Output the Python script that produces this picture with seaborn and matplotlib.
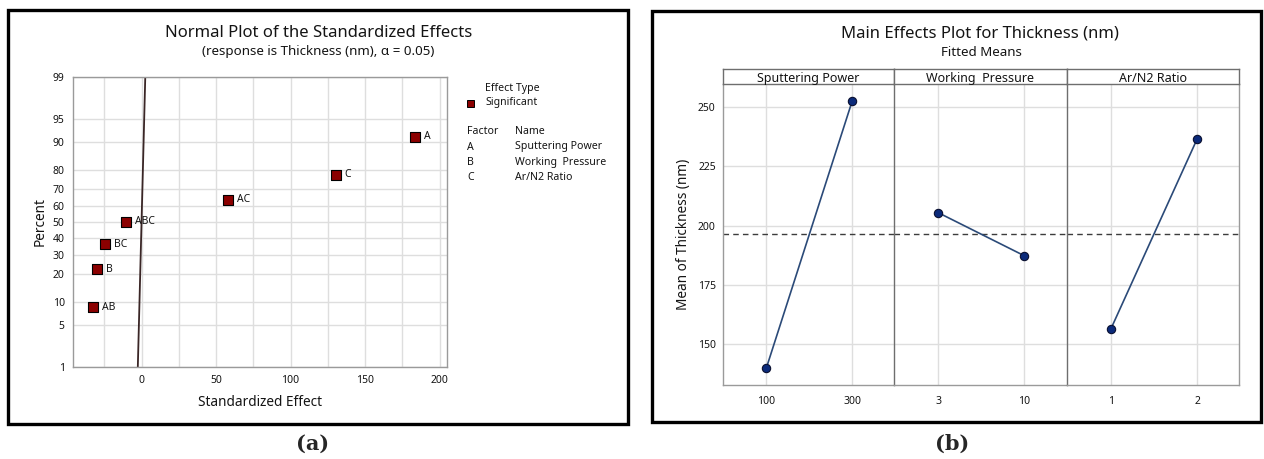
import matplotlib
matplotlib.use("Agg")
import matplotlib.pyplot as plt
from matplotlib.patches import Rectangle
import seaborn as sns
import pandas as pd
import numpy as np
from statistics import NormalDist

# ---- data ----
effect_terms = ["AB", "B", "BC", "ABC", "AC", "C", "A"]
effect_values = [-32.7, -30.0, -24.8, -10.3, 58.2, 130.2, 183.7]
effect_percent = [8.6, 22.4, 36.2, 50.0, 63.8, 77.6, 91.4]
ref_line_x = [-2.5, 2.5]
ref_line_pct = [1, 99]
pct_ticks = [1, 5, 10, 20, 30, 40, 50, 60, 70, 80, 90, 95, 99]

factor_letters = ["A", "B", "C"]
factor_names = ["Sputtering Power", "Working  Pressure", "Ar/N2 Ratio"]
level_labels = [["100", "300"], ["3", "10"], ["1", "2"]]
level_means = [[140.1, 252.7], [205.5, 187.3], [156.3, 236.5]]
grand_mean = 196.4

W, H = 1264, 459
sns.set_style("white")
plt.rcParams['font.family'] = ['Noto Sans', 'DejaVu Sans']

fig = plt.figure(figsize=(W / 100, H / 100), dpi=100)


def fbox(x0, y0, x1, y1):
    # pixel box (top-left origin) -> figure fraction rect
    return [x0 / W, 1 - y1 / H, (x1 - x0) / W, (y1 - y0) / H]


def fx(x):
    return x / W


def fy(y):
    return 1 - y / H


z = NormalDist().inv_cdf
grid_c = "#dedede"
spine_c = "#9a9a9a"
txt_c = "#141414"

# ---- outer frames ----
for x0, y0, x1, y1 in [(8, 10, 628, 424), (652, 11, 1261, 422)]:
    fig.patches.append(Rectangle((fx(x0), fy(y1)), fx(x1) - fx(x0), fy(y0) - fy(y1),
                                 transform=fig.transFigure, fill=False,
                                 lw=2.4, ec="black", zorder=10))

# ================= (a) normal plot =================
ax = fig.add_axes(fbox(73, 77, 447, 367))
df_eff = pd.DataFrame({"effect": effect_values,
                       "z": [z(p / 100) for p in effect_percent],
                       "term": effect_terms})
ax.plot(ref_line_x, [z(p / 100) for p in ref_line_pct], color="#3a2626", lw=1.3, zorder=2)
sns.scatterplot(data=df_eff, x="effect", y="z", marker="s", s=44, color="#8b0000",
                edgecolor="black", linewidth=0.8, ax=ax, zorder=3, legend=False)
for _, r in df_eff.iterrows():
    ax.text(r["effect"] + 6, r["z"], r["term"], fontsize=7.5, va="center", ha="left",
            color=txt_c)

ax.set_xlim(-46, 205)
ax.set_ylim(z(0.01), z(0.99))
ax.set_xticks([0, 50, 100, 150, 200])
ax.set_xticks([-25, 25, 75, 125, 175], minor=True)
ax.set_yticks([z(p / 100) for p in pct_ticks])
ax.set_yticklabels([str(p) for p in pct_ticks])
ax.grid(True, which="both", color=grid_c, lw=1)
ax.set_axisbelow(True)
for s in ax.spines.values():
    s.set_color(spine_c)
    s.set_linewidth(1)
ax.tick_params(axis="both", which="major", labelsize=7.5, length=3, color=spine_c,
               pad=3, direction="out", labelcolor=txt_c)
ax.tick_params(axis="both", which="minor", length=0)
ax.tick_params(axis="x", length=0, pad=6)
ax.set_xlabel("")
ax.set_ylabel("")
fig.text(fx(260), fy(402), "Standardized Effect", ha="center", va="center", fontsize=9.8,
         color=txt_c)
fig.text(fx(40), fy(222), "Percent", ha="center", va="center", rotation=90, fontsize=9.8,
         color=txt_c)
fig.text(fx(319), fy(33), "Normal Plot of the Standardized Effects", ha="center",
         va="center", fontsize=12, color=txt_c)
fig.text(fx(318), fy(52), "(response is Thickness (nm), \u03b1 = 0.05)", ha="center",
         va="center", fontsize=9.6, color=txt_c)

# legend block
lfs = 7.6
fig.text(fx(485), fy(89), "Effect Type", fontsize=lfs, va="center", color=txt_c)
fig.patches.append(Rectangle((fx(467), fy(106.5)), 7 / W, 7 / H, transform=fig.transFigure,
                             fc="#8b0000", ec="black", lw=0.7))
fig.text(fx(485), fy(103), "Significant", fontsize=lfs, va="center", color=txt_c)
fig.text(fx(467), fy(131), "Factor", fontsize=lfs, va="center", color=txt_c)
fig.text(fx(515), fy(131), "Name", fontsize=lfs, va="center", color=txt_c)
for i, (l, n) in enumerate(zip(factor_letters, factor_names)):
    fig.text(fx(467), fy(147 + 15 * i), l, fontsize=lfs, va="center", color=txt_c)
    fig.text(fx(515), fy(147 + 15 * i), n, fontsize=lfs, va="center", color=txt_c)

fig.text(fx(313), fy(444), "(a)", ha="center", va="center", fontsize=15,
         fontweight="bold", family="DejaVu Serif")

# ================= (b) main effects =================
rows = []
for name, labs, means in zip(factor_names, level_labels, level_means):
    for i, (lab, m) in enumerate(zip(labs, means)):
        rows.append({"factor": name, "pos": i, "level": lab, "mean": m})
df_main = pd.DataFrame(rows)

edges = [722.7, 894.3, 1066.7, 1239.3]
for k, name in enumerate(factor_names):
    x0, x1 = edges[k], edges[k + 1]
    fa = fig.add_axes(fbox(x0, 84, x1, 385))
    sub = df_main[df_main["factor"] == name]
    sns.lineplot(data=sub, x="pos", y="mean", color="#2b4a78", lw=1.2, ax=fa,
                 marker="o", markersize=6, markerfacecolor="#0b2a7a",
                 markeredgecolor="#0a1030", markeredgewidth=0.8)
    fa.axhline(grand_mean, color="#3c3c3c", lw=1, dashes=(4, 3), zorder=1)
    fa.set_xlim(-0.51, 1.49)
    fa.set_ylim(132.8, 259.8)
    fa.set_xticks([0, 1])
    fa.set_xticklabels(sub["level"].tolist())
    fa.set_yticks([150, 175, 200, 225, 250])
    fa.grid(True, color=grid_c, lw=1)
    fa.set_axisbelow(True)
    fa.set_xlabel("")
    fa.set_ylabel("")
    for s in fa.spines.values():
        s.set_color(spine_c)
        s.set_linewidth(1)
    fa.spines["top"].set_visible(False)
    if k > 0:
        fa.spines["left"].set_color("#6e6e6e")
        fa.tick_params(axis="y", left=False, labelleft=False)
    if k < 2:
        fa.spines["right"].set_visible(False)
    fa.tick_params(axis="x", length=0, pad=8, labelsize=7.5, labelcolor=txt_c)
    fa.tick_params(axis="y", length=3, color=spine_c, pad=2, labelsize=7.5,
                   labelcolor=txt_c)

    # strip header
    st = fig.add_axes(fbox(x0, 69.3, x1, 84))
    st.set_xticks([])
    st.set_yticks([])
    for s in st.spines.values():
        s.set_color("#6e6e6e")
        s.set_linewidth(1)
    st.text(0.5, 0.4, name, ha="center", va="center", fontsize=9,
            transform=st.transAxes, color=txt_c)

fig.text(fx(683), fy(234), "Mean of Thickness (nm)", ha="center", va="center",
         rotation=90, fontsize=9.8, color=txt_c)
fig.text(fx(980), fy(33), "Main Effects Plot for Thickness (nm)", ha="center",
         va="center", fontsize=12, color=txt_c)
fig.text(fx(981), fy(52), "Fitted Means", ha="center", va="center", fontsize=9.6,
         color=txt_c)
fig.text(fx(952), fy(444), "(b)", ha="center", va="center", fontsize=15,
         fontweight="bold", family="DejaVu Serif")

fig.savefig("out.png", dpi=100)
